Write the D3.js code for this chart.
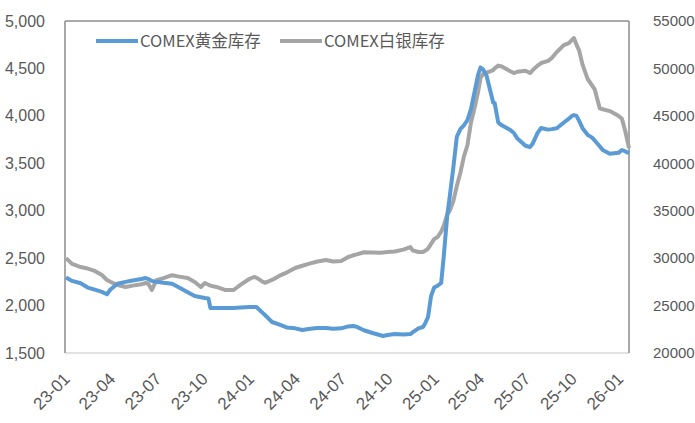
<!DOCTYPE html>
<html><head><meta charset="utf-8">
<script src="https://cdn.jsdelivr.net/npm/d3@7"></script>
<style>body{margin:0;background:#fff}svg{display:block}</style>
</head><body><svg id="c" width="695" height="423"></svg>
<script>
const dates = ["2023-01-03","2023-01-15","2023-02-01","2023-02-15","2023-03-01","2023-03-15","2023-03-25","2023-04-01","2023-04-15","2023-05-01","2023-05-15","2023-06-01","2023-06-10","2023-06-15","2023-06-22","2023-07-01","2023-07-15","2023-08-01","2023-08-15","2023-09-01","2023-09-15","2023-09-27","2023-10-05","2023-10-12","2023-10-16","2023-11-01","2023-11-15","2023-12-01","2023-12-15","2024-01-01","2024-01-10","2024-01-15","2024-01-28","2024-02-01","2024-02-15","2024-03-01","2024-03-15","2024-04-01","2024-04-15","2024-05-01","2024-05-15","2024-06-01","2024-06-15","2024-07-01","2024-07-15","2024-07-25","2024-08-01","2024-08-15","2024-09-01","2024-09-15","2024-09-22","2024-10-01","2024-10-15","2024-11-01","2024-11-15","2024-11-20","2024-12-01","2024-12-10","2024-12-15","2024-12-20","2024-12-26","2025-01-01","2025-01-08","2025-01-15","2025-01-20","2025-01-27","2025-02-01","2025-02-08","2025-02-15","2025-02-22","2025-03-01","2025-03-08","2025-03-15","2025-03-22","2025-03-29","2025-04-03","2025-04-08","2025-04-15","2025-04-22","2025-04-28","2025-05-01","2025-05-08","2025-05-15","2025-06-01","2025-06-08","2025-06-15","2025-07-01","2025-07-10","2025-07-15","2025-07-25","2025-08-01","2025-08-15","2025-08-22","2025-09-01","2025-09-15","2025-09-25","2025-10-01","2025-10-05","2025-10-10","2025-10-15","2025-10-22","2025-11-01","2025-11-10","2025-11-15","2025-11-25","2025-12-01","2025-12-15","2026-01-01","2026-01-08","2026-01-15","2026-01-22"];
const gold = [2295,2260,2235,2190,2168,2145,2120,2170,2230,2250,2265,2280,2290,2280,2260,2250,2240,2230,2190,2140,2100,2088,2080,2075,1974,1974,1974,1975,1980,1985,1985,1985,1920,1900,1827,1800,1770,1760,1742,1755,1763,1763,1755,1760,1780,1785,1775,1740,1711,1690,1679,1690,1700,1695,1700,1720,1760,1774,1820,1879,2100,2190,2210,2238,2512,2950,3150,3450,3780,3860,3900,3956,4070,4250,4430,4510,4490,4420,4270,4140,4135,3930,3900,3850,3819,3760,3685,3671,3705,3820,3872,3855,3860,3870,3930,3970,4000,4008,4000,3950,3870,3800,3770,3740,3680,3640,3600,3610,3640,3625,3605];
const silver = [30000,29400,29060,28900,28650,28220,27700,27500,27170,26960,27100,27250,27380,27300,26640,27690,27900,28200,28050,27900,27480,26960,27380,27200,27100,26900,26640,26640,27200,27800,28010,27950,27500,27400,27700,28150,28480,28960,29200,29450,29650,29800,29650,29700,30120,30300,30400,30620,30600,30560,30600,30650,30700,30900,31170,30800,30650,30650,30800,31000,31500,32000,32230,32800,33400,34600,35000,36000,37600,39000,40700,41900,44300,45800,47500,49000,49400,49550,49700,49830,50000,50300,50200,49700,49510,49650,49750,49510,49800,50300,50570,50800,51100,51730,52460,52670,53000,53200,52500,51940,50400,48900,48200,47800,45800,45700,45500,45000,44700,43300,41600];
const seriesNames = ["COMEX黄金库存","COMEX白银库存"];
const leftTicks = [1500,2000,2500,3000,3500,4000,4500,5000];
const rightTicks = [20000,25000,30000,35000,40000,45000,50000,55000];
const xTickLabels = ["23-01","23-04","23-07","23-10","24-01","24-04","24-07","24-10","25-01","25-04","25-07","25-10","26-01"];

const svg = d3.select("#c");
const L = 65, R = 629, T = 21, B = 353;
const parse = d3.timeParse("%Y-%m-%d");
const x = d3.scaleTime().domain([parse("2023-01-01"), parse("2026-01-22")]).range([L, R]);
const yL = d3.scaleLinear().domain([1500, 5000]).range([B, T]);
const yR = d3.scaleLinear().domain([20000, 55000]).range([B, T]);
const font = "'Liberation Sans', Arial, sans-serif";
const txt = "#595959";

// frame
svg.append("line").attr("x1", L).attr("x2", R).attr("y1", B).attr("y2", B).attr("stroke", "#d9d9d9").attr("stroke-width", 1.5);
svg.append("line").attr("x1", L).attr("x2", R).attr("y1", T).attr("y2", T).attr("stroke", "#8c8c8c").attr("stroke-width", 1.5);
svg.append("line").attr("x1", L).attr("x2", L).attr("y1", T).attr("y2", B).attr("stroke", "#8c8c8c").attr("stroke-width", 1.5);
svg.append("line").attr("x1", R).attr("x2", R).attr("y1", T).attr("y2", B).attr("stroke", "#8c8c8c").attr("stroke-width", 1.5);

// left axis
const fmt = d3.format(",");
const gl = svg.append("g").attr("transform", `translate(${L},0)`)
  .call(d3.axisLeft(yL).tickValues(leftTicks).tickFormat(fmt).tickSize(0).tickPadding(20));
gl.select(".domain").remove();
gl.selectAll("text").attr("font-family", font).attr("font-size", 16).attr("fill", txt);

const gr = svg.append("g").attr("transform", `translate(${R},0)`)
  .call(d3.axisRight(yR).tickValues(rightTicks).tickFormat(d3.format("d")).tickSize(0).tickPadding(24));
gr.select(".domain").remove();
gr.selectAll("text").attr("font-family", font).attr("font-size", 15).attr("fill", txt);

// x axis labels
const tickDates = xTickLabels.map(s => parse("20" + s + "-01"));
const gx = svg.append("g");
gx.selectAll("text").data(tickDates).enter().append("text")
  .attr("transform", d => `translate(${x(d)+6},${B+27}) rotate(-45)`)
  .attr("text-anchor", "end")
  .attr("font-family", font).attr("font-size", 17).attr("fill", txt)
  .text((d, i) => xTickLabels[i]);

// lines
const pts = dates.map(parse);
const lineG = d3.line().x((d, i) => x(pts[i])).y(d => yL(d));
const lineS = d3.line().x((d, i) => x(pts[i])).y(d => yR(d));
svg.append("path").attr("d", lineS(silver)).attr("fill", "none").attr("stroke", "#a5a5a5").attr("stroke-width", 4).attr("stroke-linejoin", "round");
svg.append("path").attr("d", lineG(gold)).attr("fill", "none").attr("stroke", "#5b9bd5").attr("stroke-width", 4).attr("stroke-linejoin", "round");

// legend
const leg = [{x: 96, c: "#5b9bd5"}, {x: 280, c: "#a5a5a5"}];
leg.forEach((l, i) => {
  svg.append("line").attr("x1", l.x).attr("x2", l.x + 42).attr("y1", 41).attr("y2", 41).attr("stroke", l.c).attr("stroke-width", 4);
  svg.append("text").attr("x", l.x + 44).attr("y", 41).attr("dy", "0.35em")
    .attr("font-family", "'Noto Sans CJK SC', 'Noto Sans', sans-serif").attr("font-size", 16.5).attr("fill", txt)
    .text(seriesNames[i]);
});
</script></body></html>
